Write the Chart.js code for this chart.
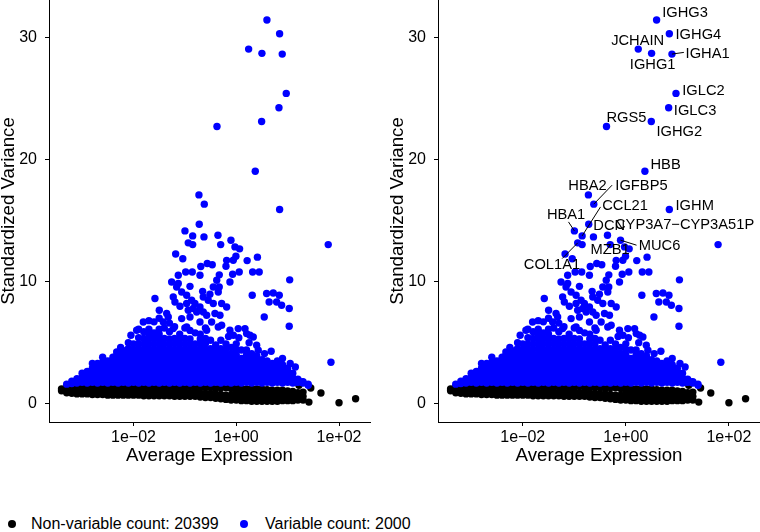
<!DOCTYPE html>
<html>
<head>
<meta charset="utf-8">
<script src="https://cdn.jsdelivr.net/npm/chart.js@4.4.1/dist/chart.umd.min.js"></script>
<style>
  body { margin: 0; background: #fff; font-family: "Liberation Sans", Arial, sans-serif; }
  #wrap { position: relative; width: 760px; height: 532px; }
  #leftBox { position: absolute; left: 0; top: 0; }
  #rightBox { position: absolute; left: 389px; top: 0; }
  canvas { display: block; }
  #legend { position: absolute; left: 0; top: 513px; font-size: 16px; color: #000; white-space: nowrap; }
  #legend .dot { position: absolute; width: 8px; height: 8px; border-radius: 50%; top: 7px; }
  #legend .txt { position: absolute; top: 0; line-height: 22px; }
</style>
</head>
<body>
<div id="wrap">
  <div id="leftBox"><canvas id="leftChart" width="380" height="470"></canvas></div>
  <div id="rightBox"><canvas id="rightChart" width="371" height="470"></canvas></div>
  <div id="legend">
    <span class="dot" style="left:8px;background:#000"></span><span class="txt" style="left:31px">Non-variable count: 20399</span>
    <span class="dot" style="left:240px;background:#0000ff"></span><span class="txt" style="left:265px">Variable count: 2000</span>
  </div>
</div>
<script>
// x values are log10(average expression), y values are standardized variance

// labelled top variable genes
var geneNames = ['IGHG3', 'IGHG4', 'JCHAIN', 'IGHG1', 'IGHA1', 'IGLC2', 'IGLC3', 'RGS5', 'IGHG2', 'HBB',
  'HBA2', 'IGFBP5', 'IGHM', 'DCN', 'HBA1', 'CCL21', 'COL1A1', 'CYP3A7\u2212CYP3A51P', 'MUC6', 'MZB1'];
var geneLogX = [0.597, 0.844, 0.241, 0.500, 0.895, 0.973, 0.831, -0.375, 0.494, 0.370,
  -0.726, -0.622, 0.844, -0.720, -0.998, -0.848, -0.934, -0.356, -0.103, -0.006];
var geneVar = [31.42, 30.30, 29.04, 28.69, 28.63, 25.41, 24.23, 22.70, 23.11, 19.04,
  17.10, 16.34, 15.90, 14.70, 14.15, 13.74, 13.17, 13.80, 13.39, 12.07];

// other scattered variable genes
var blueScatter = [
  [1.79, 13.03], [-0.628, 13.66], [-0.848, 13.03], [-0.303, 13.03], [-0.025, 12.84], [0.065, 12.68],
  [-1.179, 12.26], [-1.04, 11.87], [0.212, 11.72], [0.412, 12.0], [-0.187, 11.74], [-0.2, 11.25],
  [-0.564, 11.48], [-0.467, 11.38], [-0.69, 11.24], [-0.058, 11.75],
  [-1.128, 10.52], [-0.984, 10.79], [-0.856, 10.79], [-0.706, 10.52], [-0.33, 10.55], [-0.07, 10.6],
  [0.058, 10.79], [0.319, 10.79], [0.447, 10.79], [1.04, 10.14], [-0.38, 10.11],
  [-1.257, 9.97], [-1.16, 9.56], [-0.9, 9.61], [-0.654, 9.2], [-0.512, 8.96], [-0.331, 9.56], [-0.35, 9.15],
  [0.311, 8.88], [0.591, 9.02], [0.72, 9.07], [0.837, 8.88], [-0.642, 8.74], [-0.545, 8.47], [-0.447, 8.2],
  [-1.128, 9.84], [-1.062, 9.15], [-0.965, 8.88], [-0.868, 8.47], [-0.804, 8.2], [-0.706, 7.92],
  [-0.642, 7.51], [-0.576, 7.24], [-0.447, 9.56], [-0.123, 9.97], [-0.284, 8.2], [-0.187, 7.92],
  [-1.582, 8.61], [-1.226, 8.74], [-1.193, 8.33], [-1.095, 7.98], [-0.965, 8.2], [-0.934, 7.65],
  [-0.837, 7.79], [-0.77, 7.51], [0.786, 8.33], [0.883, 8.06], [0.64, 8.33], [1.031, 7.79],
  [-1.062, 6.97], [-1.498, 7.65], [-1.354, 7.38], [-0.479, 6.69], [-0.414, 7.38], [-0.317, 7.24],
  [-0.284, 6.42], [-0.123, 6.01], [0.039, 6.15], [-0.057, 5.6], [0.202, 5.74], [0.331, 5.46],
  [0.397, 4.78], [0.428, 4.37], [-0.706, 6.69], [-1.809, 6.69], [-1.938, 6.01], [0.545, 7.1],
  [1.031, 6.34], [1.843, 3.39], [-2.132, 4.37], [-2.327, 4.23], [-2.36, 3.82],
  [-0.9, 7.1], [-0.965, 6.28], [-1.226, 6.15], [-1.323, 7.1], [-1.42, 6.69], [-0.576, 6.01],
  [-0.35, 6.28], [0.17, 6.15], [0.267, 5.6], [1.175, 1.77], [1.27, 1.77], [1.4, 1.5],
  [0.55, 4.1], [0.68, 4.3], [0.9, 3.7], [1.05, 3.3], [1.15, 3.0], [0.25, 5.0], [0.05, 5.4],
  [-0.15, 5.5], [-2.25, 4.6], [-2.05, 5.6], [-1.9, 6.1], [-2.6, 3.8], [-2.8, 3.3]
];

// dense part of the variable cloud, column by column
var blueCloud = [
  [-3.3, [1.6]],
  [-3.2, [1.65, 1.85]],
  [-3.1, [1.7, 2.05]],
  [-3.0, [1.75, 2.15, 2.5]],
  [-2.9, [1.7, 2.1, 2.5, 2.65]],
  [-2.8, [1.75, 2.2, 2.6, 2.9]],
  [-2.7, [1.7, 2.1, 2.5, 2.9, 3.3]],
  [-2.6, [1.75, 2.2, 2.65, 3.1, 3.4]],
  [-2.5, [1.7, 2.1, 2.5, 2.9, 3.3, 3.5]],
  [-2.4, [1.75, 2.2, 2.65, 3.1, 3.5, 3.8]],
  [-2.3, [1.7, 2.1, 2.5, 2.9, 3.3, 3.7, 4.1]],
  [-2.2, [1.75, 2.2, 2.65, 3.1, 3.55, 4.0, 4.3]],
  [-2.1, [1.7, 2.1, 2.5, 2.9, 3.3, 3.7, 4.1, 4.5, 5.0]],
  [-2.0, [1.75, 2.2, 2.65, 3.1, 3.55, 4.0, 4.45, 4.9]],
  [-1.9, [1.7, 2.1, 2.5, 2.9, 3.3, 3.7, 4.1, 4.5, 4.9, 5.4]],
  [-1.8, [1.75, 2.2, 2.65, 3.1, 3.55, 4.0, 4.45, 4.9, 5.35, 5.9]],
  [-1.7, [1.7, 2.1, 2.5, 2.9, 3.3, 3.7, 4.1, 4.5, 4.9, 5.3, 5.7, 6.1, 6.8]],
  [-1.6, [1.75, 2.2, 2.65, 3.1, 3.55, 4.0, 4.45, 4.9, 5.35, 5.8, 6.7]],
  [-1.5, [1.7, 2.1, 2.5, 2.9, 3.3, 3.7, 4.1, 4.5, 4.9, 5.3, 5.7, 6.1, 7.0]],
  [-1.4, [1.75, 2.2, 2.65, 3.1, 3.55, 4.0, 4.45, 4.9, 5.35, 6.2]],
  [-1.3, [1.7, 2.1, 2.5, 2.9, 3.3, 3.7, 4.1, 4.5, 4.9, 5.3, 5.9, 6.6]],
  [-1.2, [1.75, 2.2, 2.65, 3.1, 3.55, 4.0, 4.45, 4.9, 5.35, 6.3]],
  [-1.1, [1.7, 2.1, 2.5, 2.9, 3.3, 3.7, 4.1, 4.5, 4.9, 5.3, 5.7]],
  [-1.0, [1.75, 2.2, 2.65, 3.1, 3.55, 4.0, 4.45, 4.9, 5.35, 6.2]],
  [-0.9, [1.7, 2.1, 2.5, 2.9, 3.3, 3.7, 4.1, 4.5, 4.9, 5.3, 6.0]],
  [-0.8, [1.75, 2.2, 2.65, 3.1, 3.55, 4.0, 4.45, 4.9, 5.8]],
  [-0.7, [1.7, 2.1, 2.5, 2.9, 3.3, 3.7, 4.1, 4.5, 4.9, 5.3, 5.7]],
  [-0.6, [1.75, 2.2, 2.65, 3.1, 3.55, 4.0, 4.45, 4.9, 5.35, 6.2]],
  [-0.5, [1.7, 2.1, 2.5, 2.9, 3.3, 3.7, 4.1, 4.5, 5.2]],
  [-0.4, [1.75, 2.2, 2.65, 3.1, 3.55, 4.0, 4.45, 4.8]],
  [-0.3, [1.7, 2.1, 2.5, 2.9, 3.3, 3.7, 4.1, 4.5, 5.2]],
  [-0.2, [1.75, 2.2, 2.65, 3.1, 3.55, 4.0, 4.45, 4.9]],
  [-0.1, [1.7, 2.1, 2.5, 2.9, 3.3, 3.7, 4.1, 4.6]],
  [0.0, [1.75, 2.2, 2.65, 3.1, 3.55, 4.0, 4.45, 4.9]],
  [0.1, [1.7, 2.1, 2.5, 2.9, 3.3, 3.7, 4.4]],
  [0.2, [1.75, 2.2, 2.65, 3.1, 3.55, 4.0, 4.4]],
  [0.3, [1.7, 2.1, 2.5, 2.9, 3.3, 3.7, 4.1]],
  [0.4, [1.75, 2.2, 2.65, 3.1, 3.55, 3.9]],
  [0.5, [1.7, 2.1, 2.5, 2.9, 3.3, 3.6]],
  [0.6, [1.75, 2.2, 2.65, 3.1, 3.5]],
  [0.7, [1.7, 2.1, 2.5, 2.9, 3.3]],
  [0.8, [1.75, 2.2, 2.65, 3.1, 3.5]],
  [0.9, [1.7, 2.1, 2.5, 2.9, 3.2]],
  [1.0, [1.75, 2.2, 2.6, 2.9]],
  [1.1, [1.7, 2.1, 2.5]],
  [1.2, [1.75, 2.0]],
  [1.3, [1.7, 1.8]],
  [1.4, [1.6]]
];

// non-variable band, column by column
var blackBand = [
  [-3.4, [1.05, 1.2]],
  [-3.3, [0.9, 1.2, 1.4]],
  [-3.2, [0.85, 1.15, 1.4]],
  [-3.1, [0.8, 1.1, 1.4]],
  [-3.0, [0.8, 1.1, 1.4]],
  [-2.9, [0.8, 1.1, 1.4]],
  [-2.8, [0.75, 1.05, 1.35]],
  [-2.7, [0.75, 1.05, 1.4]],
  [-2.6, [0.75, 1.05, 1.35]],
  [-2.5, [0.7, 1.0, 1.4]],
  [-2.4, [0.7, 1.0, 1.35]],
  [-2.3, [0.7, 1.0, 1.4]],
  [-2.2, [0.7, 1.0, 1.35]],
  [-2.1, [0.7, 1.0, 1.4]],
  [-2.0, [0.7, 1.0, 1.3]],
  [-1.9, [0.7, 1.0, 1.35]],
  [-1.8, [0.65, 0.95, 1.3]],
  [-1.7, [0.65, 0.95, 1.4]],
  [-1.6, [0.65, 0.95, 1.35]],
  [-1.5, [0.65, 0.95, 1.3]],
  [-1.4, [0.65, 0.95, 1.35]],
  [-1.3, [0.65, 0.95, 1.4]],
  [-1.2, [0.6, 0.9, 1.3]],
  [-1.1, [0.6, 0.9, 1.35]],
  [-1.0, [0.6, 0.9, 1.3]],
  [-0.9, [0.6, 0.9, 1.4]],
  [-0.8, [0.6, 0.9, 1.3]],
  [-0.7, [0.55, 0.85, 1.3]],
  [-0.6, [0.5, 0.85, 1.35]],
  [-0.5, [0.5, 0.8, 1.3]],
  [-0.4, [0.45, 0.8, 1.25]],
  [-0.3, [0.4, 0.75, 1.3]],
  [-0.2, [0.35, 0.7, 1.3]],
  [-0.1, [0.3, 0.7, 1.25]],
  [0.0, [0.3, 0.65, 1.0, 1.3]],
  [0.1, [0.25, 0.6, 0.95, 1.25]],
  [0.2, [0.25, 0.6, 0.95, 1.2]],
  [0.3, [0.2, 0.55, 0.9, 1.25]],
  [0.4, [0.2, 0.5, 0.85, 1.2]],
  [0.5, [0.2, 0.5, 0.85, 1.2]],
  [0.6, [0.2, 0.5, 0.85, 1.15]],
  [0.7, [0.2, 0.5, 0.8, 1.1]],
  [0.8, [0.2, 0.5, 0.8, 1.1]],
  [0.9, [0.25, 0.55, 0.85, 1.1]],
  [1.0, [0.25, 0.55, 0.85, 1.05]],
  [1.1, [0.25, 0.5, 0.8, 1.0]],
  [1.2, [0.3, 0.6, 0.9]],
  [1.3, [0.3, 0.6, 0.95]]
];
var blackScatter = [[1.22, 1.5], [1.45, 1.28], [1.414, 0.13], [1.648, 0.87], [2.0, 0.08], [2.323, 0.41]];

var xTickValues = [0.01, 1, 100];
var xTickLabels = ['1e\u221202', '1e+00', '1e+02'];
var yTickValues = [0, 10, 20, 30];

// label placement in pixels relative to each labelled point (text left edge, vertical centre)
var labelOffsets = [[5.6, -8.3], [6.2, -0.4], [-27.1, -9.7], [-21.8, 10.7], [13.6, -1.7], [6.3, -4], [5.2, 1.6],
  [-0.1, -9.7], [5.2, 9.3], [5.6, -7], [-20.1, -10.4], [21.6, -19.7], [6.2, -5], [4.6, 0.3], [-27.5, -17.4],
  [20.1, -31.4], [-53.9, 21.4], [7.5, -11], [18.2, 5], [-35.1, -7.7]];
// segment ends for the repelled labels (null = no segment)
var segmentEnds = [null, null, null, null, [11.9, -1.7], null, null, null, null, null, null, [18.3, -19], null,
  null, [-5.9, -9], [18.4, -29], [-15.5, 15.7], null, [16, 5], null];

function toPoints(list) {
  return list.map(function(p) { return {x: Math.pow(10, p[0]), y: p[1]}; });
}
function columnsToPoints(cols) {
  var out = [];
  cols.forEach(function(c) {
    c[1].forEach(function(v) { out.push({x: Math.pow(10, c[0]), y: v}); });
  });
  return out;
}

var bluePoints = toPoints(geneLogX.map(function(v, i) { return [v, geneVar[i]]; }))
  .concat(toPoints(blueScatter), columnsToPoints(blueCloud));
var blackPoints = columnsToPoints(blackBand).concat(toPoints(blackScatter));

var FONT = '"Liberation Sans", Arial, sans-serif';

function makeOptions(padRight) {
  return {
    responsive: false,
    animation: false,
    devicePixelRatio: 1,
    layout: {autoPadding: false, padding: {left: 0, right: padRight, top: 0, bottom: 0}},
    plugins: {legend: {display: false}, tooltip: {enabled: false}},
    scales: {
      x: {
        type: 'logarithmic',
        min: Math.pow(10, -3.644),
        max: Math.pow(10, 2.603),
        afterBuildTicks: function(s) { s.ticks = xTickValues.map(function(v) { return {value: v}; }); },
        afterFit: function(s) { s.height = 48; s.paddingLeft = 0; s.paddingRight = 0; },
        ticks: {
          autoSkip: false, maxRotation: 0, padding: 2, color: '#000',
          font: {family: FONT, size: 16},
          callback: function(v, i) { return xTickLabels[i]; }
        },
        grid: {drawOnChartArea: false, tickLength: 4, color: '#000', tickWidth: 1},
        border: {color: '#000', width: 1},
        title: {display: true, text: 'Average Expression', color: '#000',
          font: {family: FONT, size: 18.7, lineHeight: 1}, padding: {top: 0, bottom: 4.4}}
      },
      y: {
        min: -1.5,
        max: 33.06,
        afterBuildTicks: function(s) { s.ticks = yTickValues.map(function(v) { return {value: v}; }); },
        afterFit: function(s) { s.width = 49; s.paddingTop = 0; s.paddingBottom = 0; },
        ticks: {padding: 8, color: '#000', font: {family: FONT, size: 16}},
        grid: {drawOnChartArea: false, tickLength: 4, color: '#000', tickWidth: 1},
        border: {color: '#000', width: 1},
        title: {display: true, text: 'Standardized Variance', color: '#000',
          font: {family: FONT, size: 18.7, lineHeight: 1}, padding: {top: -0.9, bottom: 0}}
      }
    }
  };
}

function makeData() {
  return {
    datasets: [
      {label: 'Variable count: 2000', data: bluePoints, backgroundColor: '#0000ff',
        pointRadius: 3.7, pointBorderWidth: 0, borderWidth: 0},
      {label: 'Non-variable count: 20399', data: blackPoints, backgroundColor: '#000000',
        pointRadius: 3.7, pointBorderWidth: 0, borderWidth: 0}
    ]
  };
}

var geneLabels = {
  id: 'geneLabels',
  afterDatasetsDraw: function(chart) {
    var ctx = chart.ctx, xs = chart.scales.x, ys = chart.scales.y;
    ctx.save();
    ctx.font = '14.7px ' + FONT;
    ctx.fillStyle = '#000';
    ctx.strokeStyle = '#000';
    ctx.lineWidth = 1;
    ctx.textAlign = 'left';
    ctx.textBaseline = 'alphabetic';
    geneNames.forEach(function(name, i) {
      var px = xs.getPixelForValue(Math.pow(10, geneLogX[i]));
      var py = ys.getPixelForValue(geneVar[i]);
      var seg = segmentEnds[i];
      if (seg) {
        ctx.beginPath();
        ctx.moveTo(px, py);
        ctx.lineTo(px + seg[0], py + seg[1]);
        ctx.stroke();
      }
      var off = labelOffsets[i];
      ctx.fillText(name, px + off[0], py + off[1] + 5.2);
    });
    ctx.restore();
  }
};

new Chart(document.getElementById('leftChart'), {type: 'scatter', data: makeData(), options: makeOptions(10)});
new Chart(document.getElementById('rightChart'), {type: 'scatter', data: makeData(), options: makeOptions(0), plugins: [geneLabels]});
</script>
</body>
</html>
